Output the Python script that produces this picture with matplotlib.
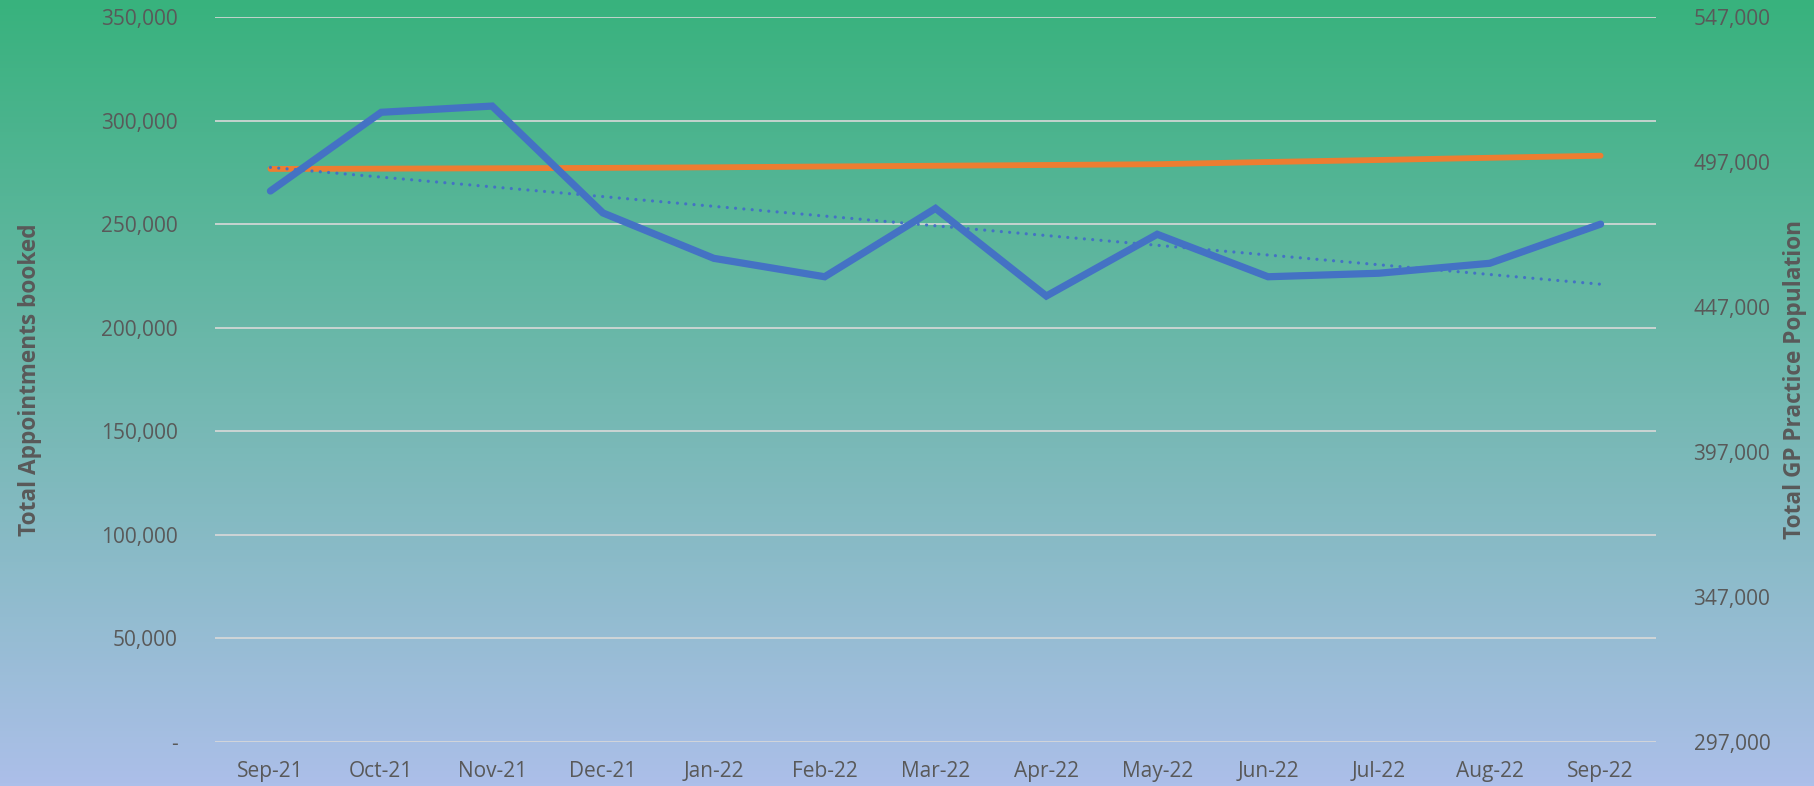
import numpy as np
import matplotlib
matplotlib.use("Agg")
import matplotlib.pyplot as plt
from matplotlib.colors import LinearSegmentedColormap
from matplotlib.ticker import FuncFormatter, FixedLocator

months = ["Sep-21", "Oct-21", "Nov-21", "Dec-21", "Jan-22", "Feb-22", "Mar-22",
          "Apr-22", "May-22", "Jun-22", "Jul-22", "Aug-22", "Sep-22"]
appointments = [266000, 304000, 307000, 255400, 233500, 224600, 257600,
                215300, 245100, 224600, 226300, 231100, 250000]
population = [494600, 494700, 494830, 494970, 495170, 495450, 495700,
              495970, 496240, 497000, 497700, 498450, 499170]
trend_ends = [277400, 221000]   # linear trendline of appointments (start, end)

left_ticks = [0, 50000, 100000, 150000, 200000, 250000, 300000, 350000]
right_ticks = [297000, 347000, 397000, 447000, 497000, 547000]

TXT = "#595959"
plt.rcParams['font.family'] = ['Open Sans', 'DejaVu Sans']

fig = plt.figure(figsize=(18.14, 7.86), dpi=100)

# gradient background
bg = fig.add_axes([0, 0, 1, 1], zorder=0)
cmap = LinearSegmentedColormap.from_list("bg", ["#38B27D", "#72B8B0", "#ACBFE9"])
grad = np.linspace(0, 1, 256).reshape(-1, 1)
bg.imshow(grad, aspect="auto", cmap=cmap, extent=[0, 1, 0, 1], origin="upper")
bg.set_axis_off()

ax = fig.add_axes([215/1814, 44/786, 1441/1814, 725/786], zorder=1)
ax.patch.set_alpha(0)
x = np.arange(len(months))
ax.set_xlim(-0.5, len(months) - 0.5)
ax.set_ylim(0, 350000)
ax.yaxis.set_major_locator(FixedLocator(left_ticks))
ax.yaxis.set_major_formatter(FuncFormatter(lambda v, p: "-" if v == 0 else f"{int(v):,}"))
ax.grid(axis="y", color="#D9D9D9", linewidth=1.2, zorder=1)
ax.set_axisbelow(True)
for s in ax.spines.values():
    s.set_visible(False)
ax.tick_params(axis="both", length=0, colors=TXT, labelsize=15)
ax.tick_params(axis="y", pad=27)
ax.tick_params(axis="x", pad=14)
ax.set_xticks(x)
ax.set_xticklabels(months)

ax.plot(x, appointments, color="#4472C4", linewidth=5.2, solid_joinstyle="miter",
        solid_capstyle="round", zorder=4)
ax.plot([x[0], x[-1]], trend_ends, color="#4472C4", linewidth=2.3,
        linestyle=(0, (0.01, 2.6)), dash_capstyle="round", zorder=5)
ax.set_ylabel("Total Appointments booked", color=TXT, fontsize=16.3, fontweight="bold")
ax.yaxis.set_label_coords(-(215 - 42) / 1441, 0.5)

ax2 = ax.twinx()
ax2.set_ylim(297000, 547000)
ax2.yaxis.set_major_locator(FixedLocator(right_ticks))
ax2.yaxis.set_major_formatter(FuncFormatter(lambda v, p: f"{int(v):,}"))
for s in ax2.spines.values():
    s.set_visible(False)
ax2.tick_params(axis="y", length=0, colors=TXT, labelsize=15, pad=27)
ax2.plot(x, population, color="#ED7D31", linewidth=4.2, solid_capstyle="round", zorder=3)
ax2.set_ylabel("Total GP Practice Population", color=TXT, fontsize=16.3, fontweight="bold")
ax2.yaxis.set_label_coords(1 + (1783 - 1656) / 1441, 0.5)

ax.set_zorder(2)
ax2.set_zorder(1)
ax2.patch.set_alpha(0)

fig.savefig("out.png", dpi=100)
